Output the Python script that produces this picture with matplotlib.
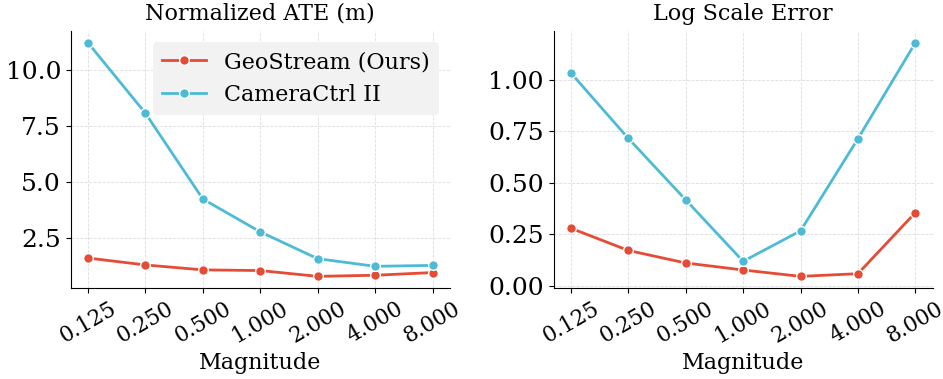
import numpy as np
import matplotlib.pyplot as plt

plt.rcParams['font.family'] = 'DejaVu Serif'

magnitudes = ["0.125", "0.250", "0.500", "1.000", "2.000", "4.000", "8.000"]

# Normalized ATE (m)
ate_geostream = [1.59, 1.28, 1.06, 1.03, 0.77, 0.82, 0.94]
ate_cameractrl = [11.22, 8.07, 4.23, 2.76, 1.56, 1.22, 1.26]

# Log scale error
lse_geostream = [0.279, 0.171, 0.110, 0.076, 0.045, 0.058, 0.355]
lse_cameractrl = [1.034, 0.716, 0.417, 0.118, 0.266, 0.714, 1.180]

RED = '#E64B35'
BLUE = '#4DBBD5'


def style_axis(ax, title):
    ax.set_title(title, fontsize=16, pad=8)
    ax.set_xlabel('Magnitude', fontsize=16, labelpad=3)
    ax.set_xticks(range(len(magnitudes)))
    ax.set_xticklabels(magnitudes, rotation=30, ha='center')
    ax.tick_params(axis='x', labelsize=15.5)
    ax.tick_params(axis='y', labelsize=18)
    ax.grid(True, linestyle='--', linewidth=0.6, color='#dddddd')
    ax.spines['top'].set_visible(False)
    ax.spines['right'].set_visible(False)


fig = plt.figure(figsize=(9.43, 3.79), dpi=100)
ax1 = fig.add_axes([0.075, 0.240, 0.402, 0.678])
ax2 = fig.add_axes([0.587, 0.240, 0.402, 0.678])
x = np.arange(len(magnitudes))

mk = dict(marker='o', markersize=7, markeredgecolor='white', markeredgewidth=1.0, linewidth=2)

ax1.plot(x, ate_geostream, color=RED, label='GeoStream (Ours)', **mk)
ax1.plot(x, ate_cameractrl, color=BLUE, label='CameraCtrl II', **mk)
style_axis(ax1, 'Normalized ATE (m)')
ax1.set_yticks([2.5, 5.0, 7.5, 10.0])
leg = ax1.legend(fontsize=16, loc='upper right', frameon=True, facecolor='#f2f2f2',
                 edgecolor='none', framealpha=1.0, borderaxespad=0.5)

ax2.plot(x, lse_geostream, color=RED, **mk)
ax2.plot(x, lse_cameractrl, color=BLUE, **mk)
style_axis(ax2, 'Log Scale Error')
ax2.set_yticks([0.0, 0.25, 0.5, 0.75, 1.0])
ax2.set_yticklabels(['0.00', '0.25', '0.50', '0.75', '1.00'])

fig.savefig('out.png', dpi=100)
